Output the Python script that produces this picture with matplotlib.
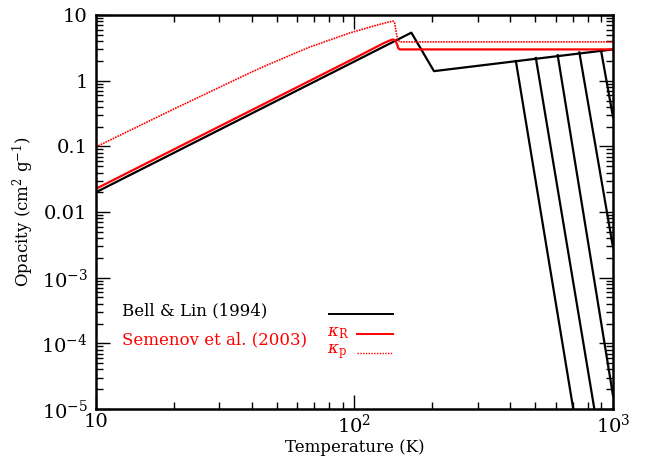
import numpy as np
import matplotlib
matplotlib.use("Agg")
import matplotlib.pyplot as plt
from matplotlib.ticker import FixedLocator, FixedFormatter, LogLocator, NullFormatter

plt.rcParams.update({
    "font.family": "serif",
    "font.serif": ["DejaVu Serif"],
    "mathtext.fontset": "dejavuserif",
    "font.size": 14,
    "xtick.direction": "in",
    "ytick.direction": "in",
})

# Bell & Lin (1994), piecewise power law breakpoints
bl_T = [10, 166, 203, 1000]
bl_k = [0.020, 5.4, 1.40, 3.0]

# evaporation branches (start on the 0.1 T^0.5 branch, end at frame)
drop_T0 = [421, 503, 611, 741, 898]
drop_k0 = [2.0, 2.22, 2.45, 2.7, 2.95]
drop_T1 = [702, 847, 1000, 1000, 1000]
drop_k1 = [1e-5, 1e-5, 1.6e-5, 2.9e-3, 0.28]

# Semenov et al. (2003), Rosseland mean
ros_T = [10, 100, 130, 138, 141, 144, 146, 148, 150, 1000]
ros_k = [0.0226, 2.2, 3.75, 4.15, 4.26, 4.1, 3.6, 3.1, 3.0, 3.0]

# Semenov et al. (2003), Planck mean
pl_T = [10, 20, 39.4, 47, 67, 96, 120, 135, 141, 143, 145, 147, 150, 1000]
pl_k = [0.098, 0.37, 1.32, 1.8, 3.25, 5.35, 6.9, 7.8, 8.1, 7.6, 5.5, 4.2, 3.9, 3.9]

fig = plt.figure(figsize=(6.48, 4.57), dpi=100)
ax = fig.add_axes([0.148, 0.105, 0.798, 0.862])

ax.plot(bl_T, bl_k, color="black", lw=1.6)
for T0, k0, T1, k1 in zip(drop_T0, drop_k0, drop_T1, drop_k1):
    ax.plot([T0, T1], [k0, k1], color="black", lw=1.6)
ax.plot(ros_T, ros_k, color="red", lw=1.6)
ax.plot(pl_T, pl_k, color="red", lw=1.2, ls=(0, (1, 0.6)))

ax.set_xscale("log")
ax.set_yscale("log")
ax.set_xlim(10, 1000)
ax.set_ylim(1e-5, 10)

ax.xaxis.set_major_locator(FixedLocator([10, 100, 1000]))
ax.xaxis.set_major_formatter(FixedFormatter(["10", r"$10^2$", r"$10^3$"]))
ax.yaxis.set_major_locator(FixedLocator([1e-5, 1e-4, 1e-3, 0.01, 0.1, 1, 10]))
ax.yaxis.set_major_formatter(FixedFormatter(
    [r"$10^{-5}$", r"$10^{-4}$", r"$10^{-3}$", "0.01", "0.1", "1", "10"]))
for axis in (ax.xaxis, ax.yaxis):
    axis.set_minor_locator(LogLocator(base=10, subs=np.arange(2, 10)))
    axis.set_minor_formatter(NullFormatter())

ax.tick_params(which="both", top=True, right=True, width=1)
ax.tick_params(which="major", length=10, pad=6)
ax.tick_params(axis="x", which="major", pad=3)
ax.tick_params(which="minor", length=5)
for s in ax.spines.values():
    s.set_linewidth(1.8)

ax.set_xlabel("Temperature (K)", fontsize=12)
ax.xaxis.set_label_coords(0.5, -0.077)
ax.set_ylabel(r"Opacity (cm$^2$ g$^{-1}$)", fontsize=12, labelpad=4)

# legend drawn by hand
ax.text(0.05, 0.25, "Bell & Lin (1994)", transform=ax.transAxes, fontsize=12,
        va="center", color="black")
ax.plot([0.45, 0.575], [0.24, 0.24], transform=ax.transAxes, color="black", lw=1.4)
ax.text(0.05, 0.175, "Semenov et al. (2003)", transform=ax.transAxes, fontsize=12,
        va="center", color="red")
ax.text(0.447, 0.193, r"$\kappa_\mathrm{R}$", transform=ax.transAxes, fontsize=12,
        va="center", color="red")
ax.plot([0.505, 0.575], [0.19, 0.19], transform=ax.transAxes, color="red", lw=1.4)
ax.text(0.447, 0.147, r"$\kappa_\mathrm{p}$", transform=ax.transAxes, fontsize=12,
        va="center", color="red")
ax.plot([0.505, 0.575], [0.142, 0.142], transform=ax.transAxes, color="red", lw=1.0,
        ls=(0, (1, 1)))

fig.savefig("out.png", dpi=100)
